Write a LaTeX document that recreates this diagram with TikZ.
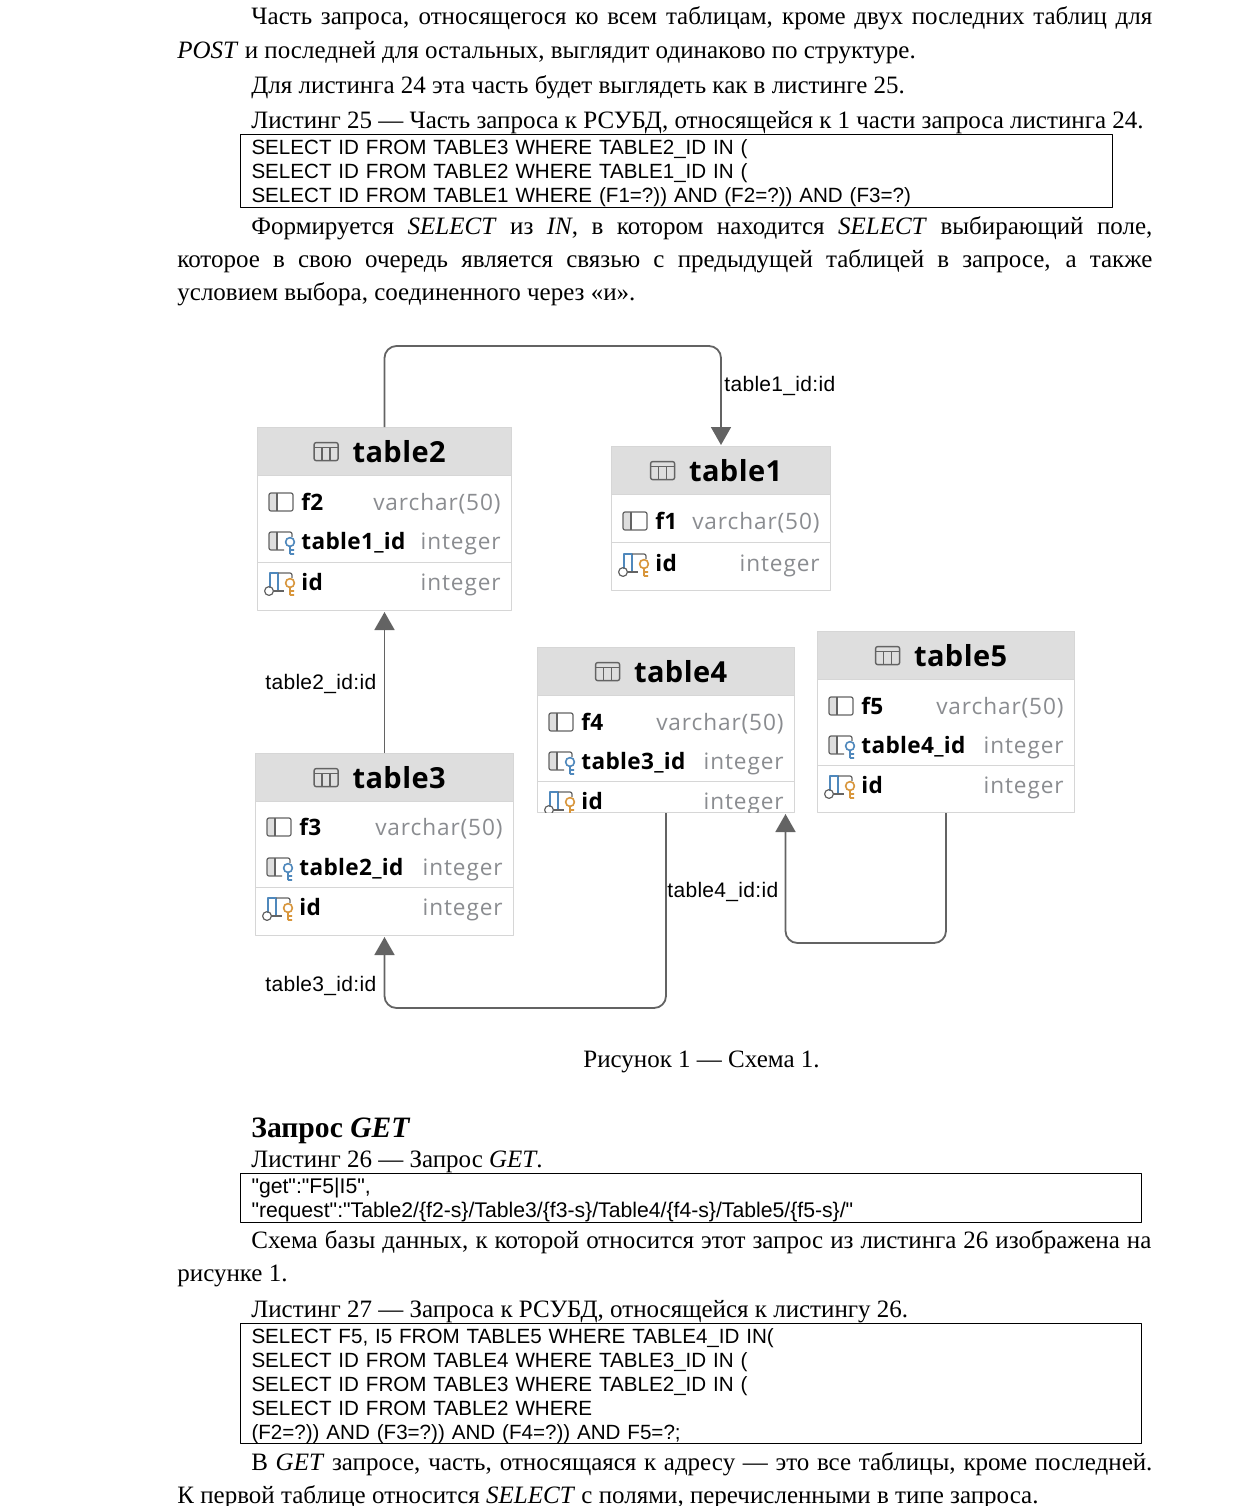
\documentclass[tikz,border=0pt]{standalone}
\usepackage{fontspec}
\setmainfont{Liberation Serif}
\newfontfamily\listfont{Liberation Sans}
\newfontfamily\linkfont[LetterSpace=1.5]{Liberation Sans}
\newfontfamily\dbfont[LetterSpace=4]{Open Sans}
\newfontfamily\dbnamefont[LetterSpace=1.5]{Open Sans}
\usetikzlibrary{arrows.meta}
\definecolor{linkgray}{HTML}{636363}
\definecolor{headgray}{HTML}{DEDEDE}
\definecolor{framegray}{HTML}{D6D6D6}
\definecolor{typegray}{HTML}{8A8C90}
\definecolor{iconblue}{HTML}{4F88BC}
\definecolor{iconorange}{HTML}{D8963C}
\tikzset{
	bodytext/.style={anchor=base west,inner sep=0pt,font=\fontsize{12.5}{15}\selectfont},
	listing/.style={draw,anchor=north west,align=left,inner xsep=5.5pt,inner ysep=0pt,line width=0.5pt,
		minimum width=#1*0.5pt,text width=#1*0.5pt-11pt,font=\listfont\frenchspacing\fontsize{10.3}{12}\selectfont,
		execute at begin node={\rule{0pt}{10pt}}},
	dbframe/.style={draw=framegray,fill=white,anchor=north west,inner sep=0pt,line width=0.5pt},
	dbhead/.style={draw=framegray,fill=headgray,anchor=north west,inner sep=0pt,minimum height=24pt,line width=0.6pt},
	dbtitle/.style={inner sep=0pt,font=\dbnamefont\bfseries\fontsize{14.5}{16}\selectfont},
	dbname/.style={anchor=base west,inner sep=0pt,font=\dbnamefont\bfseries\fontsize{11.3}{13}\selectfont},
	dbtype/.style={anchor=base east,inner sep=0pt,text=typegray,font=\dbfont\fontsize{11.3}{13}\selectfont},
	linktext/.style={anchor=west,inner sep=0pt,font=\linkfont\fontsize{10.5}{12}\selectfont},
	link/.style={draw=linkgray,line width=0.9pt,rounded corners=6pt,shorten >=0.5pt,
		-{Triangle[width=10pt,length=9pt]}},
	tabicon/.pic={
		\draw[linkgray,line width=0.7pt,rounded corners=1pt] (-12,-9) rectangle (12,9);
		\draw[linkgray,line width=0.7pt] (-12,-4) -- (12,-4) (-4,-4) -- (-4,9) (4,-4) -- (4,9);
	},
	plaincol/.pic={
		\fill[headgray] (-12,-9) rectangle (-4,9);
		\draw[linkgray,line width=0.6pt,rounded corners=1pt] (-12,-9) rectangle (12,9);
		\draw[linkgray,line width=0.6pt] (-4,-9) -- (-4,9);
	},
	keymark/.pic={
		\draw[line width=0.8pt] (0,-2) circle (2.2pt) (0,3) -- (0,10) (0,6) -- (4,6) (0,10) -- (4,10);
	},
	fkcol/.pic={
		\fill[headgray] (-12,-9) rectangle (-4,9);
		\draw[linkgray,line width=0.6pt,rounded corners=1pt] (11,-4) -- (11,-9) -- (-12,-9) -- (-12,9) -- (3,9);
		\draw[linkgray,line width=0.6pt] (-4,-9) -- (-4,9);
		\pic[iconblue] at (9,3) {keymark};
	},
	pkcol/.pic={
		\draw[iconblue,line width=0.7pt] (-11,6) -- (-11,-9) -- (-3,-9) -- (-3,8);
		\draw[linkgray,line width=0.6pt,rounded corners=1pt] (-3,-9) -- (11,-9) -- (11,-4);
		\draw[linkgray,line width=0.6pt] (-8,9) -- (3,9);
		\draw[linkgray,line width=0.6pt] (-12,9) circle (2.2pt);
		\pic[iconorange] at (9,3) {keymark};
	},
}
\newcommand{\jline}[2]{\makebox[\dimexpr #1pt/2\relax][s]{#2}}
% table frame and header
\newcommand{\dbtable}[5]{
	\node[dbframe,minimum width=#4*0.5pt,minimum height=#5*0.5pt] (#1) at (#2,#3) {};
	\node[dbhead,minimum width=#4*0.5pt] (#1head) at (#2,#3) {};
	\node[dbtitle,xshift=7.25pt] (#1title) at (#1head.center) {#1};
	\pic at ([xshift=-13pt]#1title.west) {tabicon};
}
% one column: table, row name, icon, y, text, type
\newcommand{\dbrow}[6]{
	\pic at ([xshift=12pt]#1.west |- 0,#4) {#3};
	\node[dbname] (#1#2) at ([xshift=22pt]#1.west |- 0,#4+8) {#5};
	\node[dbtype] (#1#2type) at ([xshift=-5.5pt]#1.east |- 0,#4+8) {#6};
}
\begin{document}
\begin{tikzpicture}[x=0.5pt,y=-0.5pt,line join=round]
	\useasboundingbox (0,0) rectangle (1240,1506);
	% text above
	\node[bodytext] (pa1) at (251,24) {\jline{901}{Часть запроса, относящегося ко всем таблицам, кроме двух последних таблиц для}};
	\node[bodytext] (pa2) at (177,58) {\textit{POST} и последней для остальных, выглядит одинаково по структуре.};
	\node[bodytext] (pb) at (251,93) {Для листинга 24 эта часть будет выглядеть как в листинге 25.};
	\node[bodytext] (cap25) at (251,128) {Листинг 25 — Часть запроса к РСУБД, относящейся к 1 части запроса листинга 24.};
	\node[listing=872,minimum height=36.5pt] (list25) at (240,134) {SELECT ID FROM TABLE3 WHERE TABLE2\_ID IN (\\
		SELECT ID FROM TABLE2 WHERE TABLE1\_ID IN (\\
		SELECT ID FROM TABLE1 WHERE (F1=?)) AND (F2=?)) AND (F3=?)};
	\node[bodytext] (pc1) at (251,234) {\jline{901}{Формируется \textit{SELECT} из \textit{IN}, в котором находится \textit{SELECT} выбирающий поле,}};
	\node[bodytext] (pc2) at (177,267) {\jline{975}{которое в свою очередь является связью с предыдущей таблицей в запросе, а также}};
	\node[bodytext] (pc3) at (177,300) {условием выбора, соединенного через «и».};
	% tables
	\dbtable{table2}{257}{427}{254}{183}
	\dbrow{table2}{f}{plaincol}{502}{f2}{varchar(50)}
	\dbrow{table2}{fk}{fkcol}{541}{table1\_id}{integer}
	\dbrow{table2}{pk}{pkcol}{582}{id}{integer}
	\draw[framegray] (table2.west |- 0,562) -- (table2.east |- 0,562);
	\dbtable{table1}{611}{446}{219}{144}
	\dbrow{table1}{f}{plaincol}{521}{f1}{varchar(50)}
	\dbrow{table1}{pk}{pkcol}{563}{id}{integer}
	\draw[framegray] (table1.west |- 0,542) -- (table1.east |- 0,542);
	\dbtable{table3}{255}{753}{258}{182}
	\dbrow{table3}{f}{plaincol}{827}{f3}{varchar(50)}
	\dbrow{table3}{fk}{fkcol}{867}{table2\_id}{integer}
	\dbrow{table3}{pk}{pkcol}{907}{id}{integer}
	\draw[framegray] (table3.west |- 0,887) -- (table3.east |- 0,887);
	\dbtable{table4}{537}{647}{257}{165}
	\begin{scope}
		\clip (537,647) rectangle (794,812);
		\dbrow{table4}{f}{plaincol}{722}{f4}{varchar(50)}
		\dbrow{table4}{fk}{fkcol}{761}{table3\_id}{integer}
		\dbrow{table4}{pk}{pkcol}{801}{id}{integer}
	\end{scope}
	\draw[framegray] (table4.west |- 0,781) -- (table4.east |- 0,781);
	\dbtable{table5}{817}{631}{257}{181}
	\dbrow{table5}{f}{plaincol}{706}{f5}{varchar(50)}
	\dbrow{table5}{fk}{fkcol}{745}{table4\_id}{integer}
	\dbrow{table5}{pk}{pkcol}{785}{id}{integer}
	\draw[framegray] (table5.west |- 0,765) -- (table5.east |- 0,765);
	% links
	\draw[link] (table2.north) -- ++(0,-81) -| (table1.north);
	\draw[link] (table3.north) -- (table2.south);
	\draw[link] (table4.south) -- ++(0,195) -| (table3.south);
	\draw[link] (table5.south) -- ++(0,130) -| ([xshift=59.75pt]table4.south);
	\node[linktext] (lab1) at (724,386) {table1\_id:id};
	\node[linktext] (lab2) at (265,684) {table2\_id:id};
	\node[linktext] (lab3) at (265,986) {table3\_id:id};
	\node[linktext] (lab4) at (667,892) {table4\_id:id};
	% text below
	\node[bodytext] (fig1) at (583,1067) {Рисунок 1 — Схема 1.};
	\node[bodytext,font=\bfseries\fontsize{14.8}{16}\selectfont] (head) at (251,1137) {Запрос \textit{GET}};
	\node[bodytext] (cap26) at (251,1167) {Листинг 26 — Запрос \textit{GET}.};
	\node[listing=901,minimum height=24.5pt,font=\listfont\fontsize{10.6}{12}\selectfont] (list26) at (240,1173) {"get":"F5|I5",\\
		"request":"Table2/\{f2-s\}/Table3/\{f3-s\}/Table4/\{f4-s\}/Table5/\{f5-s\}/"};
	\node[bodytext] (pd1) at (251,1248) {\jline{900}{Схема базы данных, к которой относится этот запрос из листинга 26 изображена на}};
	\node[bodytext] (pd2) at (177,1281) {рисунке 1.};
	\node[bodytext] (cap27) at (251,1317) {Листинг 27 — Запроса к РСУБД, относящейся к листингу 26.};
	\node[listing=901,minimum height=60pt] (list27) at (240,1323) {SELECT F5, I5 FROM TABLE5 WHERE TABLE4\_ID IN(\\
		SELECT ID FROM TABLE4 WHERE TABLE3\_ID IN (\\
		SELECT ID FROM TABLE3 WHERE TABLE2\_ID IN (\\
		SELECT ID FROM TABLE2 WHERE\\
		(F2=?)) AND (F3=?)) AND (F4=?)) AND F5=?;};
	\node[bodytext] (pe1) at (251,1470) {\jline{901}{В \textit{GET} запросе, часть, относящаяся к адресу — это все таблицы, кроме последней.}};
	\node[bodytext] (pe2) at (177,1503) {К первой таблице относится \textit{SELECT} с полями, перечисленными в типе запроса.};
\end{tikzpicture}
\end{document}
